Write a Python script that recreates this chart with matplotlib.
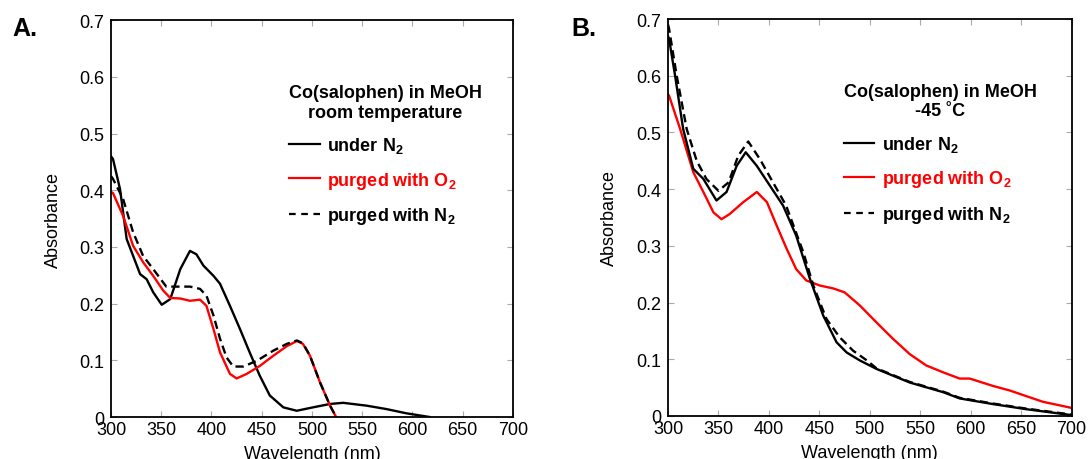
import matplotlib
matplotlib.use("Agg")
import matplotlib.pyplot as plt
from matplotlib.lines import Line2D

plt.rcParams['font.family'] = ['Liberation Sans', 'DejaVu Sans']
plt.rcParams['mathtext.fontset'] = 'custom'
plt.rcParams['mathtext.rm'] = 'Liberation Sans'
plt.rcParams['mathtext.bf'] = 'Liberation Sans:bold'

# ---- panel A data (room temperature) ----
a_n2_wl = [300, 302, 309, 315.6, 329, 335.5, 342, 350.5, 359, 369, 378.6, 385, 392, 402,
           408.5, 418.4, 428.4, 438, 448, 458, 471.5, 484.8, 501, 518, 531, 554.4, 574, 594, 617]
a_n2_abs = [0.46, 0.455, 0.402, 0.314, 0.252, 0.243, 0.22, 0.198, 0.208, 0.261, 0.293, 0.287,
            0.267, 0.249, 0.235, 0.196, 0.155, 0.114, 0.073, 0.038, 0.017, 0.011, 0.017, 0.023,
            0.025, 0.02, 0.014, 0.0065, 0.0]

a_o2_wl = [300, 302, 312, 322, 332, 342, 352, 359, 369, 378.6, 388.6, 395, 402, 408.5, 418.4,
           425, 435, 448, 461.5, 475, 485, 491, 498, 508, 518, 524]
a_o2_abs = [0.397, 0.395, 0.355, 0.302, 0.273, 0.249, 0.223, 0.21, 0.209, 0.205, 0.207, 0.196,
            0.155, 0.114, 0.076, 0.068, 0.076, 0.09, 0.108, 0.125, 0.134, 0.129, 0.108, 0.061,
            0.02, 0.0]

a_pn2_wl = [300, 302, 312, 322, 332, 342, 355, 365, 378.6, 388.6, 395, 402, 408.5, 415, 421.7,
            431.6, 445, 461.5, 475, 485, 491, 498, 508, 518, 524]
a_pn2_abs = [0.425, 0.42, 0.385, 0.326, 0.284, 0.261, 0.23, 0.23, 0.23, 0.226, 0.214, 0.179,
             0.138, 0.105, 0.089, 0.089, 0.099, 0.117, 0.129, 0.135, 0.13, 0.108, 0.061, 0.02, 0.0]

# ---- panel B data (-45 C) ----
b_n2_wl = [300, 301, 307, 315, 325, 335, 348, 358, 368, 377, 388, 401, 414, 427, 440.6, 453.8,
           467, 477, 490, 506.6, 539.6, 572.6, 589, 622, 655, 698, 700]
b_n2_abs = [0.67, 0.665, 0.6, 0.506, 0.436, 0.418, 0.38, 0.395, 0.441, 0.465, 0.441, 0.406,
            0.371, 0.318, 0.242, 0.177, 0.13, 0.112, 0.098, 0.083, 0.059, 0.042, 0.031, 0.021,
            0.012, 0.002, 0.001]

b_o2_wl = [300, 301, 312, 325, 335, 345, 353, 361, 374.5, 388, 398, 407.6, 417.5, 427, 437,
           450.5, 463.6, 475, 490, 506.6, 523, 539.6, 556, 572.6, 589, 599, 622, 638.6, 655,
           671.6, 698, 700]
b_o2_abs = [0.567, 0.565, 0.506, 0.43, 0.395, 0.359, 0.347, 0.356, 0.377, 0.395, 0.377, 0.336,
            0.295, 0.259, 0.239, 0.23, 0.225, 0.218, 0.195, 0.165, 0.136, 0.109, 0.089, 0.077,
            0.066, 0.066, 0.053, 0.045, 0.035, 0.025, 0.015, 0.014]

b_pn2_wl = [300, 301, 308.6, 318.5, 328.4, 338, 350, 360, 369.6, 379.5, 391, 404, 417, 434, 444,
            457, 470, 483.5, 497, 506.6, 539.6, 572.6, 589, 622, 655, 698, 700]
b_pn2_abs = [0.69, 0.683, 0.6, 0.506, 0.45, 0.418, 0.397, 0.412, 0.459, 0.484, 0.453, 0.412,
             0.371, 0.289, 0.23, 0.171, 0.139, 0.115, 0.098, 0.084, 0.06, 0.043, 0.032, 0.022,
             0.013, 0.003, 0.002]

x_ticks = [300, 350, 400, 450, 500, 550, 600, 650, 700]
y_ticks = [0, 0.1, 0.2, 0.3, 0.4, 0.5, 0.6, 0.7]
y_tick_labels = ['0', '0.1', '0.2', '0.3', '0.4', '0.5', '0.6', '0.7']
labels = [r'under $\mathbf{N_2}$', r'purged with $\mathbf{O_2}$', r'purged with $\mathbf{N_2}$']

fig = plt.figure(figsize=(10.88, 4.6), dpi=100)
axA = fig.add_axes([0.102, 0.0913, 0.3695, 0.8627])
axB = fig.add_axes([0.614, 0.0935, 0.371, 0.863])


def style_axis(ax):
    ax.set_xlim(300, 700)
    ax.set_ylim(0, 0.7)
    ax.set_xticks(x_ticks)
    ax.set_yticks(y_ticks)
    ax.set_yticklabels(y_tick_labels)
    ax.tick_params(direction='in', top=True, right=True, length=4, width=0.8,
                   color='#aaaaaa', labelsize=13)
    ax.tick_params(axis='y', pad=5)
    ax.tick_params(axis='x', pad=3)
    for s in ax.spines.values():
        s.set_linewidth(1.3)
    ax.set_xlabel('Wavelength (nm)', fontsize=13)
    ax.set_ylabel('Absorbance', fontsize=13)
    ax.xaxis.set_label_coords(0.5, -0.07)
    ax.yaxis.set_label_coords(-0.123, 0.5)


def add_legend(ax, title, anchor):
    handles = [Line2D([], [], color='black', lw=1.6),
               Line2D([], [], color='red', lw=1.6),
               Line2D([], [], color='black', lw=1.6, ls=(0, (3, 2.5)))]
    leg = ax.legend(handles, labels, title=title, loc='upper right', bbox_to_anchor=anchor,
                    frameon=False, handlelength=1.7, handletextpad=0.4, labelspacing=0.8,
                    prop={'weight': 'bold', 'size': 13},
                    title_fontproperties={'weight': 'bold', 'size': 13})
    leg._legend_box.align = 'left'
    leg.get_title().set_multialignment('center')
    leg.get_texts()[1].set_color('red')


# panel A
axA.plot(a_n2_wl, a_n2_abs, color='black', lw=1.7)
axA.plot(a_o2_wl, a_o2_abs, color='red', lw=1.7)
axA.plot(a_pn2_wl, a_pn2_abs, color='black', lw=1.7, ls=(0, (3.5, 2)))
style_axis(axA)
add_legend(axA, 'Co(salophen) in MeOH\nroom temperature', (0.963, 0.88))
fig.text(0.011, 0.937, 'A.', fontsize=18, fontweight='bold', va='center')

# panel B
axB.plot(b_o2_wl, b_o2_abs, color='red', lw=1.7)
axB.plot(b_n2_wl, b_n2_abs, color='black', lw=1.7)
axB.plot(b_pn2_wl, b_pn2_abs, color='black', lw=1.7, ls=(0, (3.5, 2)))
style_axis(axB)
add_legend(axB, 'Co(salophen) in MeOH\n-45 \u02daC', (0.953, 0.88))
fig.text(0.525, 0.937, 'B.', fontsize=18, fontweight='bold', va='center')

fig.savefig('out.png', dpi=100)
